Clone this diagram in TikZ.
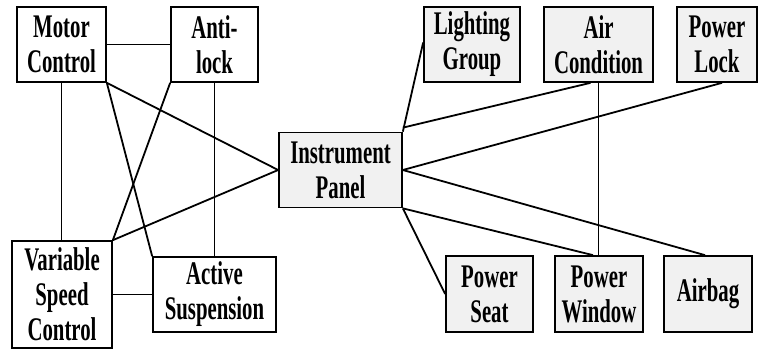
\documentclass[tikz,border=0pt]{standalone}
\usepackage{fontspec}
\setmainfont{Liberation Serif}[FakeStretch=0.63]
\definecolor{boxgray}{HTML}{F1F1F1}
\begin{document}
\begin{tikzpicture}[x=1pt,y=-1pt,
  every node/.style={font=\bfseries\fontsize{33}{35}\selectfont, align=center, inner sep=0pt, line width=1.7pt},
  wbox/.style={draw, fill=white, minimum height=75pt},
  gbox/.style={draw, fill=boxgray, minimum height=75pt},
  link/.style={line width=1.8pt}]
\useasboundingbox (0,0) rectangle (759,349);
\node[wbox, minimum width=89pt] (mc) at (61.5,44.5) {Motor\\Control};
\node[wbox, minimum width=87pt] (al) at (214.5,44.5) {Anti-\\lock};
\node[gbox, minimum width=123pt] (ip) at (340.5,170) {Instrument\\Panel};
\node[gbox, minimum width=96pt] (lg) at (472,44.5) {Lighting\\Group};
\node[gbox, minimum width=109pt] (ac) at (598.5,44.5) {Air\\Condition};
\node[gbox, minimum width=80pt] (pl) at (717,44.5) {Power\\Lock};
\node[wbox, minimum width=100pt, minimum height=107pt] (vsc) at (62,294.5) {Variable\\Speed\\Control};
\node[wbox, minimum width=123pt] (as) at (214.5,294.5) {Active\\Suspension};
\node[gbox, minimum width=87pt, minimum height=76pt] (ps) at (489.5,294) {Power\\Seat};
\node[gbox, minimum width=88pt, minimum height=76pt] (pw) at (599,294) {Power\\Window};
\node[gbox, minimum width=88pt, minimum height=76pt] (ab) at (708,294) {Airbag};
% left cluster
\draw[link] (mc.east) -- (al.west);
\draw[link] (mc.south) -- (mc.south |- vsc.north);
\draw[link] (mc.south east) -- (ip.west);
\draw[link] (mc.south east) -- (as.north west);
\draw[link] (al.south west) -- (vsc.north east);
\draw[link] (al.south) -- (al.south |- as.north);
\draw[link] (vsc.north east) -- (ip.west);
\draw[link] (vsc.east) -- (vsc.east -| as.west);
% right cluster
\draw[link] ([yshift=2pt]lg.west) -- (ip.north east);
\draw[link] ([xshift=-8pt]ac.south) -- ([yshift=4pt]ip.north east);
\draw[link] (ac.south) -- (ac.south |- pw.north);
\draw[link] ([xshift=5pt]pl.south) -- (ip.east);
\draw[link] (ip.east) -- ([xshift=-3pt]ab.north);
\draw[link] (ip.south east) -- ([xshift=-6pt]pw.north);
\draw[link] (ip.south east) -- (ps.west);
\end{tikzpicture}
\end{document}
